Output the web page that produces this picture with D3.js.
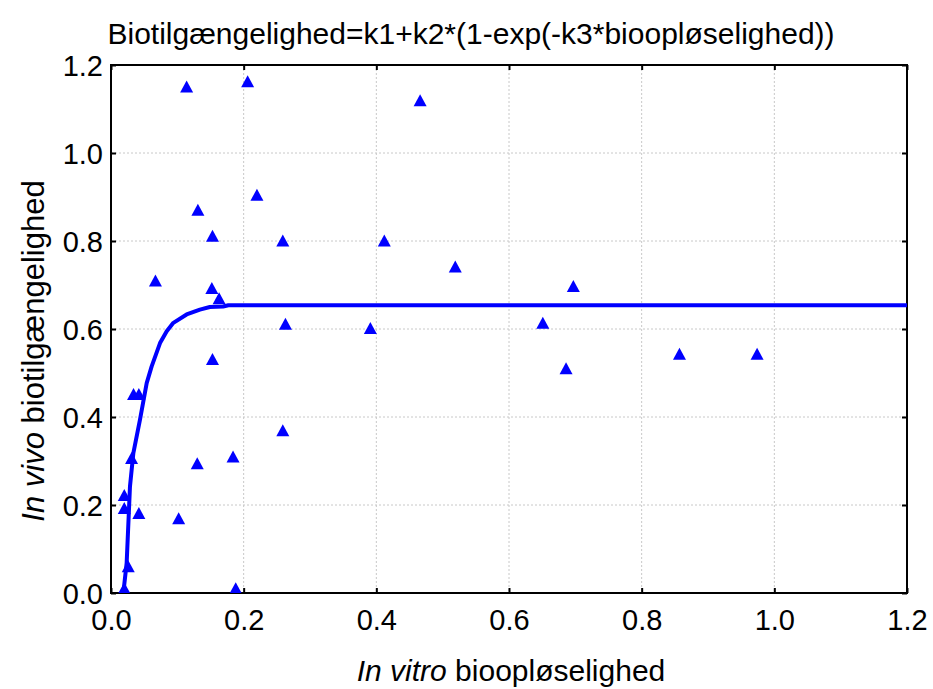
<!DOCTYPE html>
<html>
<head>
<meta charset="utf-8">
<script src="https://cdn.jsdelivr.net/npm/d3@7"></script>
<style>
  body { margin: 0; background: #fff; }
  text { font-family: "Liberation Sans", Arial, sans-serif; fill: #000; }
</style>
</head>
<body>
<div id="chart"></div>
<script>
// observed points (in vitro, in vivo)
const pointX = [0.114, 0.206, 0.466, 0.220, 0.131, 0.153, 0.259, 0.412, 0.067, 0.152,
                0.163, 0.263, 0.391, 0.153, 0.034, 0.042, 0.259, 0.031, 0.130, 0.184,
                0.020, 0.020, 0.042, 0.102, 0.026, 0.020, 0.188, 0.519, 0.697, 0.651,
                0.686, 0.857, 0.974];
const pointY = [1.151, 1.163, 1.120, 0.905, 0.871, 0.812, 0.801, 0.801, 0.710, 0.693,
                0.670, 0.612, 0.602, 0.532, 0.452, 0.452, 0.370, 0.307, 0.295, 0.310,
                0.223, 0.193, 0.182, 0.170, 0.061, 0.011, 0.011, 0.742, 0.698, 0.614,
                0.511, 0.544, 0.544];

// fitted curve
const curveX = [0.0186, 0.0236, 0.0286, 0.0337, 0.0437, 0.0538, 0.0613, 0.0739, 0.084,
                0.094, 0.114, 0.134, 0.149, 0.169, 0.177, 1.2];
const curveY = [0.0, 0.068, 0.242, 0.318, 0.394, 0.477, 0.515, 0.568, 0.595,
                0.614, 0.633, 0.644, 0.650, 0.651, 0.654, 0.654];

const xTicks = [0.0, 0.2, 0.4, 0.6, 0.8, 1.0, 1.2];
const yTicks = [0.0, 0.2, 0.4, 0.6, 0.8, 1.0, 1.2];

const width = 933, height = 689;
const margin = {top: 65, right: 26, bottom: 96, left: 111};
const w = width - margin.left - margin.right;
const h = height - margin.top - margin.bottom;

const svg = d3.select("#chart").append("svg")
    .attr("width", width)
    .attr("height", height);

const x = d3.scaleLinear().domain([0, 1.2]).range([0, w]);
const y = d3.scaleLinear().domain([0, 1.2]).range([h, 0]);

const g = svg.append("g").attr("transform", `translate(${margin.left},${margin.top})`);

svg.append("defs").append("clipPath").attr("id", "clip")
  .append("rect").attr("width", w).attr("height", h);

// grid
g.selectAll(".vgrid").data(xTicks.slice(1, -1)).enter().append("line")
    .attr("x1", d => x(d)).attr("x2", d => x(d))
    .attr("y1", 0).attr("y2", h)
    .attr("stroke", "#c8c8c8").attr("stroke-width", 1).attr("stroke-dasharray", "2,2");
g.selectAll(".hgrid").data(yTicks.slice(1, -1)).enter().append("line")
    .attr("x1", 0).attr("x2", w)
    .attr("y1", d => y(d)).attr("y2", d => y(d))
    .attr("stroke", "#c8c8c8").attr("stroke-width", 1).attr("stroke-dasharray", "2,2");

// axes, ticks pointing inward
const fmt = d3.format(".1f");
const xAxis = g.append("g").attr("transform", `translate(0,${h})`)
    .call(d3.axisBottom(x).tickValues(xTicks).tickFormat(fmt).tickSizeInner(-5).tickSizeOuter(0));
const yAxis = g.append("g")
    .call(d3.axisLeft(y).tickValues(yTicks).tickFormat(fmt).tickSizeInner(-5).tickSizeOuter(0));
g.append("g")
    .call(d3.axisTop(x).tickValues(xTicks).tickFormat("").tickSizeInner(-5).tickSizeOuter(0));
g.append("g").attr("transform", `translate(${w},0)`)
    .call(d3.axisRight(y).tickValues(yTicks).tickFormat("").tickSizeInner(-5).tickSizeOuter(0));

svg.selectAll(".domain").remove();
svg.selectAll(".tick line").attr("stroke", "#000").attr("stroke-width", 2);
xAxis.selectAll("text").style("font-size", "29px").attr("y", 37).attr("dy", 0);
yAxis.selectAll("text").style("font-size", "29px").attr("x", -8).attr("dy", "0.36em");

// frame
g.append("rect").attr("width", w).attr("height", h)
    .attr("fill", "none").attr("stroke", "#000").attr("stroke-width", 2);

// fitted curve
const line = d3.line().x(d => x(d[0])).y(d => y(d[1]));
g.append("path")
    .datum(curveX.map((v, i) => [v, curveY[i]]))
    .attr("clip-path", "url(#clip)")
    .attr("d", line)
    .attr("fill", "none")
    .attr("stroke", "#0000ff")
    .attr("stroke-width", 4)
    .attr("stroke-linejoin", "round");

// points
const tri = "M0,-6L6.5,6L-6.5,6Z";
g.append("g").attr("clip-path", "url(#clip)")
  .selectAll("path").data(pointX.map((v, i) => [v, pointY[i]])).enter().append("path")
    .attr("transform", d => `translate(${x(d[0])},${y(d[1])})`)
    .attr("d", tri)
    .attr("fill", "#0000ff");

// title
svg.append("text")
    .attr("x", 471).attr("y", 44)
    .attr("text-anchor", "middle")
    .style("font-size", "30px")
    .text("Biotilgængelighed=k1+k2*(1-exp(-k3*bioopløselighed))");

// x title
const xt = svg.append("text")
    .attr("x", 511).attr("y", 681)
    .attr("text-anchor", "middle")
    .style("font-size", "30px");
xt.append("tspan").style("font-style", "italic").text("In vitro");
xt.append("tspan").text(" bioopløselighed");

// y title
const yt = svg.append("text")
    .attr("transform", "translate(44,351) rotate(-90)")
    .attr("text-anchor", "middle")
    .style("font-size", "31px");
yt.append("tspan").style("font-style", "italic").text("In vivo");
yt.append("tspan").text(" biotilgængelighed");
</script>
</body>
</html>
